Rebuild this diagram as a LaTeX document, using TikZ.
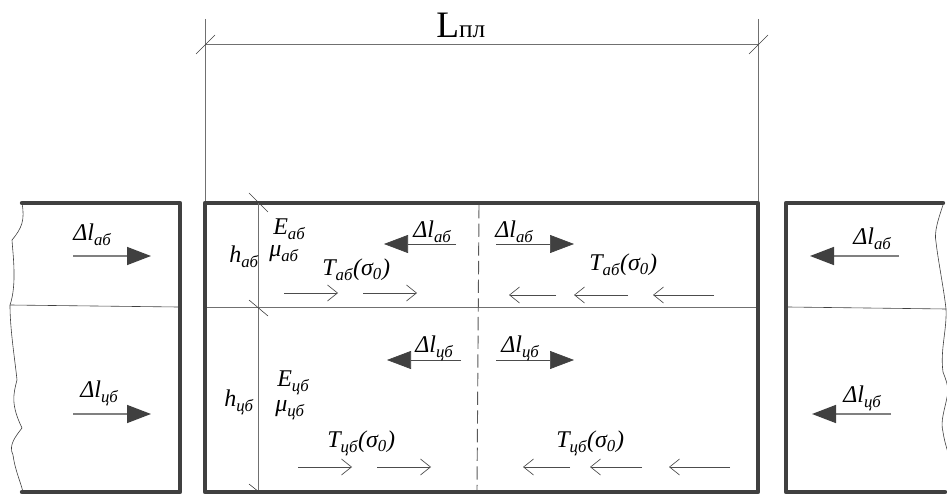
\documentclass[tikz,border=0pt]{standalone}
\usepackage{fontspec}
\setmainfont{Liberation Serif}
\usetikzlibrary{arrows.meta}
\definecolor{wallc}{HTML}{404040}
\definecolor{linec}{HTML}{707070}
\newcommand{\lab}[2]{#1\textsubscript{#2}}
\tikzset{
wall/.style={line width=3.3pt, color=wallc, line cap=round, line join=round},
thin line/.style={line width=.7pt, color=linec},
edge line/.style={line width=.45pt, color=black!75},
big arrow/.style={line width=1.1pt, color=black!50, -{Triangle[length=18pt,width=13.5pt,color=wallc]}},
mid arrow/.style={line width=.5pt, color=black!70, -{Triangle[length=18pt,width=13.5pt,color=wallc]}},
small arrow/.style={line width=.6pt, color=black!70, -{Straight Barb[length=7.5pt,width=12pt,line width=.5pt]}},
txt/.style={anchor=base west, inner sep=0pt, font=\fontsize{18}{20}\itshape\selectfont},
}
\begin{document}
\begin{tikzpicture}[x=.75pt, y=-.75pt, line join=round]
\useasboundingbox (0,0) rectangle (947,495);
% dimension
\draw[thin line] (205,19)--(205,203);
\draw[thin line] (758,19)--(758,203);
\draw[thin line] (205,44.5)--(758,44.5);
\foreach \x in {205,758}
\draw[edge line] (\x-9,54)--(\x+10,35);
\node[anchor=base west, inner sep=0pt, font=\fontsize{28}{30}\selectfont] (Lpl) at (436,38) {L\fontsize{19}{20}\selectfont пл};
% left block
\draw[wall] (22,203)--(180,203)--(180,492)--(22,492);
\draw[edge line] (10,305)--(178,307);
\draw[edge line] (22,203) .. controls (25,220) and (22,228) .. (12,240) .. controls (13,255) and (17,285) .. (10,305) .. controls (10,330) and (15,360) .. (17,380) .. controls (13,395) and (11,405) .. (22,428) .. controls (16,436) and (8,445) .. (13,455) .. controls (15,470) and (20,480) .. (23,492);
% middle block
\draw[wall] (205,203) rectangle (758,492);
\draw[thin line] (207,307)--(756,307);
\draw[line width=.7pt, color=black!65, dash pattern=on 10pt off 4pt] (479,205)--(477,490);
\draw[thin line] (258.5,203)--(258.5,490);
\draw[edge line] (249,193)--(268,212);
\draw[edge line] (249,300)--(268,316);
\draw[edge line] (249,484)--(259,492);
% right block
\draw[wall] (943,203)--(786,203)--(786,492)--(945,492);
\draw[edge line] (788,307)--(946,309);
\draw[edge line] (943,205) .. controls (938,220) and (934,232) .. (936,242) .. controls (938,260) and (944,290) .. (946,309) .. controls (947,330) and (940,350) .. (943,372) .. controls (946,380) and (948,385) .. (948,392) .. controls (945,410) and (940,420) .. (943,432) .. controls (945,445) and (948,450) .. (948,455);
% big arrows
\foreach \a/\b/\y in {73/151/256, 73/151/414, 899/810/256, 891/812/414}
\draw[big arrow] (\a,\y)--(\b,\y);
\foreach \a/\b/\y in {456/384/244, 496/574/244, 461/387/360, 496/574/360}
\draw[mid arrow] (\a,\y)--(\b,\y);
% thin arrows
\foreach \a/\b/\y in {284/338/293, 363/417/293, 556/509/295, 628/574/295, 714/653/295, 298/352/467, 377/431/467, 570/523/467, 642/590/467, 730/669/467}
\draw[small arrow] (\a,\y)--(\b,\y);
% labels
\foreach \n/\x/\y/\s in {dla1/73/241/аб, dla2/413/238/аб, dla3/495/238/аб, dla4/853/245/аб, dlc1/80/398/цб, dlc2/415/353/цб, dlc3/501/353/цб, dlc4/843/403/цб}
\node[txt] (\n) at (\x,\y) {\lab{Δl}{\s}};
\foreach \n/\x/\y/\s in {ta1/322/276/аб, ta2/589/271/аб, tc1/327/448/цб, tc2/556/448/цб}
\node[txt] (\n) at (\x,\y) {\lab{T}{\s}(σ\textsubscript{0})};
\node[txt] (Ea) at (273,235) {\lab{E}{аб}};
\node[txt] (mua) at (269,257) {\lab{μ}{аб}};
\node[txt] (ha) at (229,263) {\lab{h}{аб}};
\node[txt] (Ec) at (277,387) {\lab{E}{цб}};
\node[txt] (muc) at (275,412) {\lab{μ}{цб}};
\node[txt] (hc) at (224,407) {\lab{h}{цб}};
\end{tikzpicture}
\end{document}
